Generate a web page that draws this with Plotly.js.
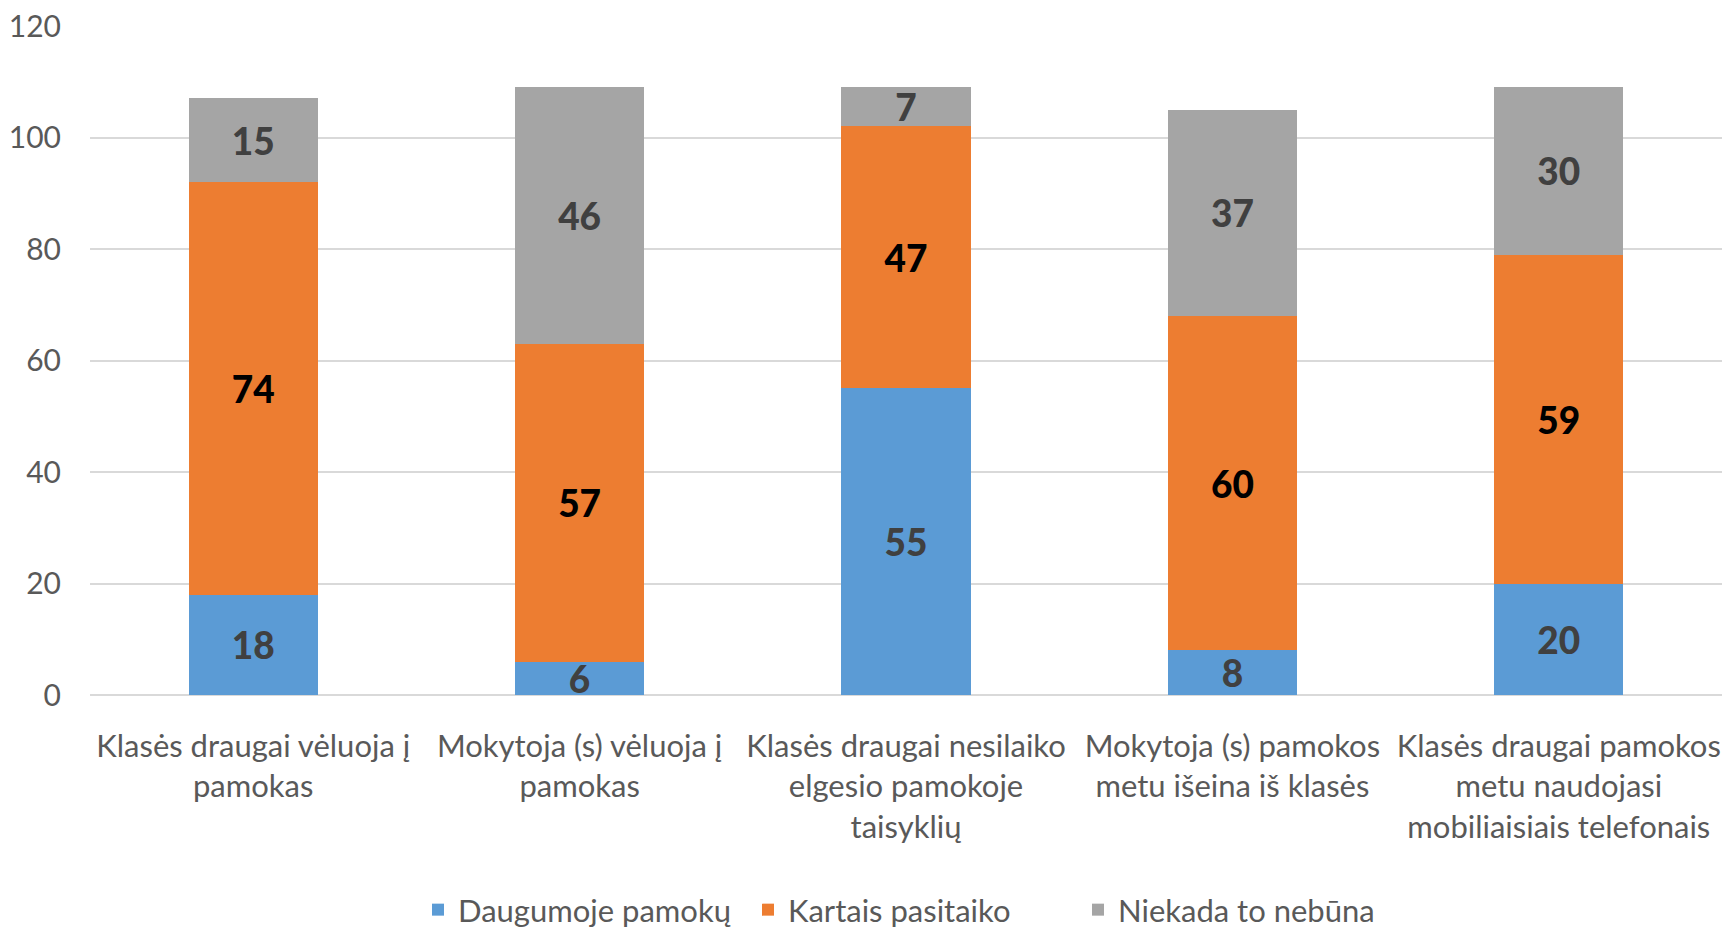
<!DOCTYPE html>
<html>
<head>
<meta charset="utf-8">
<script src="https://cdn.plot.ly/plotly-3.0.1.min.js"></script>
<style>
html,body{margin:0;padding:0;background:#fff;}
#chart{width:1727px;height:928px;}
</style>
</head>
<body>
<div id="chart"></div>
<script>
const categories = [
  "Klasės draugai vėluoja į<br>pamokas",
  "Mokytoja (s) vėluoja į<br>pamokas",
  "Klasės draugai nesilaiko<br>elgesio pamokoje<br>taisyklių",
  "Mokytoja (s) pamokos<br>metu išeina iš klasės",
  "Klasės draugai pamokos<br>metu naudojasi<br>mobiliaisiais telefonais"
];
const seriesNames = ["Daugumoje pamokų", "Kartais pasitaiko", "Niekada to nebūna"];
const daugumoje = [18, 6, 55, 8, 20];
const kartais = [74, 57, 47, 60, 59];
const niekada = [15, 46, 7, 37, 30];
const yTicks = [0, 20, 40, 60, 80, 100, 120];

const FONT = "Lato, 'Open Sans', sans-serif";
const colors = ["#5B9BD5", "#ED7D31", "#A5A5A5"];
const labelColors = ["#404040", "#000000", "#404040"];
const values = [daugumoje, kartais, niekada];

const traces = values.map((v, i) => ({
  type: "bar",
  name: seriesNames[i],
  x: categories,
  y: v,
  text: v.map(String),
  textposition: "inside",
  insidetextanchor: "middle",
  constraintext: "none",
  textangle: 0,
  textfont: {family: FONT, size: 37, color: labelColors[i], weight: 900},
  marker: {color: colors[i], line: {width: 0}},
  hoverinfo: "skip"
}));

const layout = {
  width: 1727,
  height: 928,
  barmode: "stack",
  bargap: 0.604,
  paper_bgcolor: "#ffffff",
  plot_bgcolor: "#ffffff",
  margin: {l: 90, r: 5, t: 26, b: 233},
  font: {family: FONT, color: "#595959"},
  showlegend: true,
  legend: {
    orientation: "h",
    xref: "container",
    yref: "container",
    x: 913 / 1727,
    xanchor: "center",
    y: 18 / 928,
    yanchor: "middle",
    font: {family: FONT, size: 31, color: "#595959"},
    itemwidth: 30,
    entrywidthmode: "pixels",
    entrywidth: 285,
    traceorder: "normal"
  },
  xaxis: {
    type: "category",
    tickfont: {family: FONT, size: 31, color: "#595959"},
    tickangle: 0,
    ticks: "",
    showline: false,
    showgrid: false,
    ticklabelstandoff: 30,
    fixedrange: true
  },
  yaxis: {
    range: [0, 120],
    tickvals: yTicks,
    ticktext: yTicks.map(String),
    tickfont: {family: FONT, size: 30, color: "#595959"},
    showgrid: true,
    gridcolor: "#D9D9D9",
    gridwidth: 2,
    zeroline: true,
    zerolinecolor: "#D9D9D9",
    zerolinewidth: 2,
    showline: false,
    ticks: "",
    ticklabelstandoff: 28,
    fixedrange: true
  }
};

Plotly.newPlot("chart", traces, layout, {displayModeBar: false, staticPlot: true});
</script>
</body>
</html>
